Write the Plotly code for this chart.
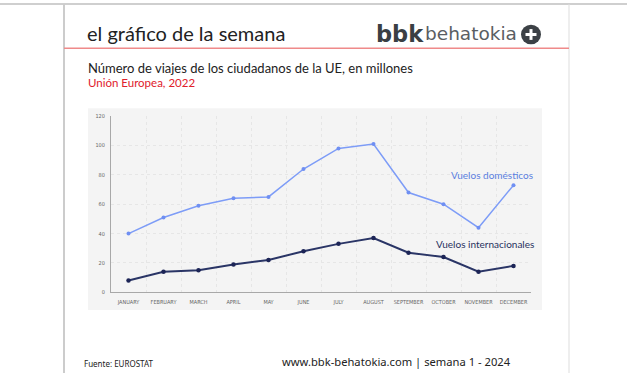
import plotly.graph_objects as go

months = ["JANUARY", "FEBRUARY", "MARCH", "APRIL", "MAY", "JUNE", "JULY",
          "AUGUST", "SEPTEMBER", "OCTOBER", "NOVEMBER", "DECEMBER"]
domesticos = [40, 51, 59, 64, 65, 84, 98, 101, 68, 60, 44, 73]
internacionales = [8, 14, 15, 19, 22, 28, 33, 37, 27, 24, 14, 18]
y_ticks = [0, 20, 40, 60, 80, 100, 120]

W, H = 627, 376
def px(x):
    return x / W
def py(y):
    return 1 - y / H

xs = list(range(len(months)))

fig = go.Figure()
fig.add_trace(go.Scatter(
    x=xs, y=domesticos, mode="lines+markers",
    line=dict(color="#7d9cf7", width=1.5),
    marker=dict(color="#6f8ff2", size=4), hoverinfo="skip"))
fig.add_trace(go.Scatter(
    x=xs, y=internacionales, mode="lines+markers",
    line=dict(color="#2a3566", width=2),
    marker=dict(color="#1c2456", size=4.5), hoverinfo="skip"))

shapes = [
    dict(type="rect", xref="paper", yref="paper", x0=px(88), x1=px(542),
         y0=py(312), y1=py(107), fillcolor="#f4f4f4", line=dict(width=0),
         layer="below"),
    dict(type="line", xref="paper", yref="paper", x0=0, x1=1, y0=py(1), y1=py(1),
         line=dict(color="#cfcfcf", width=2)),
    dict(type="line", xref="paper", yref="paper", x0=px(64), x1=px(64), y0=0, y1=py(1),
         line=dict(color="#cccccc", width=2)),
    dict(type="line", xref="paper", yref="paper", x0=px(569), x1=px(569), y0=0, y1=py(1),
         line=dict(color="#dddddd", width=1)),
    dict(type="line", xref="paper", yref="paper", x0=px(64), x1=px(569), y0=py(46), y1=py(46),
         line=dict(color="#ef8a8a", width=1.5)),
    dict(type="circle", xref="paper", yref="paper", x0=px(521), x1=px(541),
         y0=py(42), y1=py(22), fillcolor="#3c4146", line=dict(width=0)),
    dict(type="line", xref="paper", yref="paper", x0=px(525.5), x1=px(536.5), y0=py(32), y1=py(32),
         line=dict(color="white", width=3)),
    dict(type="line", xref="paper", yref="paper", x0=px(531), x1=px(531), y0=py(26.5), y1=py(37.5),
         line=dict(color="white", width=3)),
]

ann = [
    dict(text="el gráfico de la semana", x=px(85), y=py(30.5), xanchor="left", yanchor="middle",
         font=dict(family="Lato", size=20, color="#222222")),
    dict(text="<b>bbk</b>", x=px(374), y=py(31.5), xanchor="left", yanchor="middle",
         font=dict(family="DejaVu Sans", size=22.5, color="#3a3f44")),
    dict(text="behatokia", x=px(423), y=py(31), xanchor="left", yanchor="middle",
         font=dict(family="DejaVu Sans", size=18.5, color="#5a5e63")),
    dict(text="Número de viajes de los ciudadanos de la UE, en millones", x=px(86), y=py(66.5),
         xanchor="left", yanchor="middle", font=dict(family="Lato", size=13, color="#222222")),
    dict(text="Unión Europea, 2022", x=px(86), y=py(80.5), xanchor="left", yanchor="middle",
         font=dict(family="Lato", size=11.5, color="#e0202c")),
    dict(text="Vuelos domésticos", x=px(535), y=py(175), xanchor="right", yanchor="middle",
         font=dict(family="Lato", size=10, color="#5b7fe0")),
    dict(text="Vuelos internacionales", x=px(536), y=py(245), xanchor="right", yanchor="middle",
         font=dict(family="Lato", size=10, color="#27325e")),
    dict(text="Fuente: EUROSTAT", x=px(82), y=py(366.5), xanchor="left", yanchor="middle",
         font=dict(family="Noto Sans", size=8, color="#222222")),
    dict(text="www.bbk-behatokia.com | semana 1 - 2024", x=px(280), y=py(364), xanchor="left",
         yanchor="middle", font=dict(family="Noto Sans", size=11.2, color="#222222")),
]
for a in ann:
    a.update(xref="paper", yref="paper", showarrow=False)

tick_font = dict(family="DejaVu Sans Condensed, Liberation Sans Narrow", size=5.5, color="#666666")

fig.update_layout(
    width=W, height=H, margin=dict(l=0, r=0, t=0, b=0),
    paper_bgcolor="white", plot_bgcolor="rgba(0,0,0,0)",
    showlegend=False, shapes=shapes, annotations=ann,
    xaxis=dict(domain=[px(111), px(531)], range=[-0.5, 11.5],
               tickvals=xs, ticktext=months, showgrid=False, zeroline=False,
               showline=True, linecolor="#a8a8a8", linewidth=1, ticks="",
               tickfont=tick_font, tickangle=0, ticklabelstandoff=4,
               minor=dict(tickvals=[i + 0.5 for i in range(-1, 12)], showgrid=True,
                          gridcolor="#e6e6e6", griddash="dot", gridwidth=1, ticks="")),
    yaxis=dict(domain=[py(294), py(115)], range=[0, 120], tickvals=y_ticks,
               showgrid=True, gridcolor="#e6e6e6", griddash="dot", gridwidth=1,
               zeroline=False, showline=True, linecolor="#a8a8a8", linewidth=1, ticks="",
               tickfont=tick_font, ticklabelstandoff=4),
)

fig.write_html("out.html", config={"displayModeBar": False},
               post_script="document.body.style.margin='0';document.body.style.overflow='hidden';")
